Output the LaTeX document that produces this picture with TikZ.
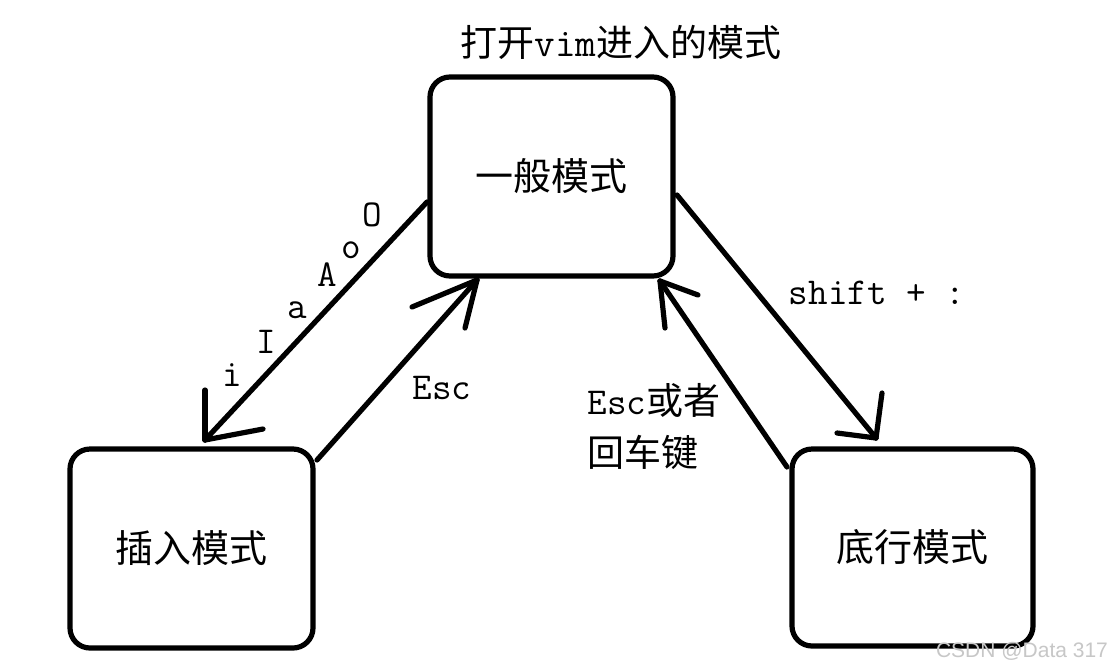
\documentclass[tikz,border=0pt]{standalone}
\usepackage{fontspec}
\newfontfamily\cjk{Noto Sans CJK SC}
\newfontfamily\wm{Liberation Sans}
\tikzset{
  mode/.style={draw=black, line width=2.6pt, rounded corners=10pt, inner sep=0pt,
    minimum width=121.5pt, minimum height=99.5pt, font=\cjk\fontsize{19}{22}\selectfont},
  conn/.style={draw=black, line width=2.6pt, line cap=round, line join=round},
  lbl/.style={inner sep=0pt, font=\ttfamily\fontsize{19}{22}\selectfont},
}
\begin{document}
\begin{tikzpicture}[x=0.5pt, y=-0.5pt]
\useasboundingbox (0,0) rectangle (1113,671);
\fill[white] (0,0) rectangle (1113,671);
% boxes
\node[mode] (top) at (551.5,176.5) {一般模式};
\node[mode] (ins) at (191.5,548.5) {插入模式};
\node[mode, minimum width=120.5pt, minimum height=98.5pt] (bot) at (912.5,547.5) {底行模式};
% title
\node[inner sep=0pt, font=\fontsize{18.5}{22}\selectfont] (title) at (621,42)
  {{\cjk 打开}{\ttfamily\fontsize{20}{22}\selectfont vim}{\cjk 进入的模式}};
% connector endpoints
\coordinate (s1) at (427,202);  \coordinate (t1) at (205,440);
\coordinate (s2) at (317,460);  \coordinate (t2) at (477,280);
\coordinate (s3) at (677,195);  \coordinate (t3) at (876,438);
\coordinate (s4) at (787,467);  \coordinate (t4) at (660,281);
% top -> insert
\draw[conn] (s1) -- (t1);
\draw[conn] (t1) -- ++(0,-50);
\draw[conn] (t1) -- ++(58,-11);
% insert -> top
\draw[conn] (s2) -- (t2);
\draw[conn] (t2) -- ++(-65,27);
\draw[conn] (t2) -- ++(-12,48);
% top -> bottom line
\draw[conn] (s3) -- (t3);
\draw[conn] (t3) -- ++(6,-45);
\draw[conn] (t3) -- ++(-39,-5);
% bottom line -> top
\draw[conn] (s4) -- (t4);
\draw[conn] (t4) -- ++(38,14);
\draw[conn] (t4) -- ++(5,47);
% labels
\node[lbl] (li) at (232,375) {i};
\node[lbl] (lI) at (266,342) {I};
\node[lbl] (la) at (297,310) {a};
\node[lbl] (lA) at (327,275) {A};
\node[lbl] (lo) at (351,250) {o};
\node[lbl] (lO) at (372,215) {O};
\node[lbl] (lesc) at (442,388) {Esc};
\node[lbl] (lshift) at (877,293) {shift + :};
\node[lbl, align=left] (lesc2) at (654,427)
  {Esc{\cjk\fontsize{18.5}{22}\selectfont 或者}\\[4pt]{\cjk\fontsize{18.5}{22}\selectfont 回车键}};
% watermark
\node[inner sep=0pt, text=black!22, font=\wm\fontsize{10.5}{13}\selectfont] (wmk) at (1022,651) {CSDN @Data 317};
\end{tikzpicture}
\end{document}
